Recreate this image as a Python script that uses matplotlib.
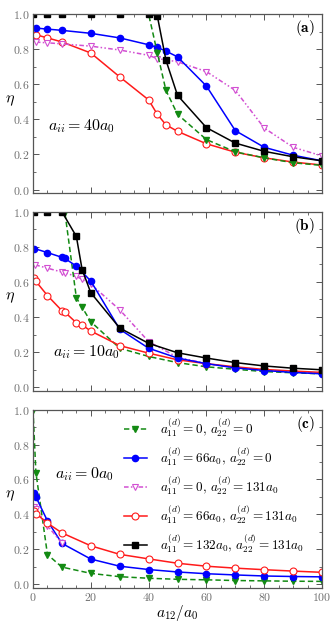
import matplotlib
matplotlib.use("Agg")
import matplotlib.pyplot as plt
from matplotlib.ticker import MultipleLocator, FuncFormatter

plt.rcParams['mathtext.fontset'] = 'cm'
plt.rcParams['font.family'] = ['DejaVu Serif']

# ---------------- data ----------------
# panel (a): a_ii = 40 a0
xa = [0, 5, 10, 20, 30, 40, 43, 46, 50, 60, 70, 80, 90, 100]
xa2 = [1, 5, 10, 20, 30, 40, 43, 46, 50, 60, 70, 80, 90, 100]
a_green = [1.0, 1.0, 1.0, 1.0, 1.0, 1.0, 0.78, 0.565, 0.429, 0.285, 0.215, 0.181, 0.153, 0.138]
a_blue = [0.92, 0.914, 0.907, 0.89, 0.864, 0.825, 0.81, 0.789, 0.756, 0.59, 0.336, 0.241, 0.196, 0.164]
a_mag = [0.84, 0.836, 0.83, 0.817, 0.795, 0.765, 0.746, 0.739, 0.728, 0.672, 0.565, 0.351, 0.241, 0.192]
a_red = [0.882, 0.864, 0.841, 0.778, 0.642, 0.511, 0.429, 0.369, 0.332, 0.261, 0.213, 0.181, 0.157, 0.140]
a_black = [1.0, 1.0, 1.0, 1.0, 1.0, 1.0, 0.99, 0.737, 0.537, 0.353, 0.265, 0.218, 0.187, 0.164]

# panel (b): a_ii = 10 a0
xb_green = [0, 5, 11, 15, 17, 20, 30, 40, 50, 60, 70, 80, 90, 100]
b_green = [1.0, 1.0, 1.0, 0.51, 0.455, 0.373, 0.222, 0.175, 0.14, 0.116, 0.102, 0.089, 0.082, 0.076]
xb_blue = [0.5, 5, 10, 11, 15, 20, 30, 40, 50, 60, 70, 80, 90, 100]
b_blue = [0.79, 0.767, 0.74, 0.734, 0.69, 0.605, 0.33, 0.222, 0.166, 0.134, 0.11, 0.095, 0.084, 0.076]
xb_mag = [0.8, 5, 10, 11, 15, 17, 20, 30, 40, 50, 60, 70, 80, 90, 100]
b_mag = [0.697, 0.678, 0.656, 0.652, 0.631, 0.615, 0.587, 0.441, 0.26, 0.17, 0.135, 0.11, 0.095, 0.086, 0.078]
xb_red = [0.5, 1, 5, 10, 11, 15, 17, 20, 30, 40, 50, 60, 70, 80, 90, 100]
b_red = [0.62, 0.603, 0.522, 0.436, 0.428, 0.367, 0.354, 0.32, 0.237, 0.194, 0.156, 0.134, 0.116, 0.101, 0.092, 0.084]
xb_black = [0.5, 5, 10, 15, 17, 20, 30, 40, 50, 60, 70, 80, 90, 100]
b_black = [1.0, 1.0, 1.0, 0.859, 0.67, 0.538, 0.337, 0.25, 0.196, 0.166, 0.14, 0.121, 0.108, 0.099]

# panel (c): a_ii = 0 a0
xc_green = [0, 1, 5, 10, 20, 30, 40, 50, 60, 70, 80, 90, 100]
c_green = [1.0, 0.64, 0.17, 0.098, 0.062, 0.043, 0.034, 0.028, 0.025, 0.021, 0.019, 0.017, 0.016]
xc_blue = [0.5, 1, 5, 10, 20, 30, 40, 50, 60, 70, 80, 90, 100]
c_blue = [0.52, 0.50, 0.363, 0.234, 0.144, 0.103, 0.084, 0.07, 0.06, 0.053, 0.047, 0.044, 0.042]
xc_mag = [0.5, 1, 5, 10]
c_mag = [0.44, 0.43, 0.335, 0.235]
xc_red = [0.5, 1, 5, 10, 20, 30, 40, 50, 60, 70, 80, 90, 100]
c_red = [0.42, 0.405, 0.35, 0.294, 0.22, 0.171, 0.145, 0.12, 0.103, 0.092, 0.083, 0.075, 0.068]

labels = [r'$a_{11}^{(d)}=0,\, a_{22}^{(d)}=0$',
          r'$a_{11}^{(d)}=66a_0,\, a_{22}^{(d)}=0$',
          r'$a_{11}^{(d)}=0,\, a_{22}^{(d)}=131a_0$',
          r'$a_{11}^{(d)}=66a_0,\, a_{22}^{(d)}=131a_0$',
          r'$a_{11}^{(d)}=132a_0,\, a_{22}^{(d)}=131a_0$']
panel_tags = [r'$\mathbf{(a)}$', r'$\mathbf{(b)}$', r'$\mathbf{(c)}$']
aii_text = [r'$a_{ii}=40a_0$', r'$a_{ii}=10a_0$', r'$a_{ii}=0a_0$']

# ---------------- styles ----------------
GREEN = '#138a13'
BLUE = '#0000ff'
MAG = '#d24fd2'
RED = '#ff1a1a'
BLACK = '#000000'
st_green = dict(color=GREEN, ls=(0, (3.5, 2)), lw=1.1, marker='v', ms=4.5, mfc=GREEN, mec=GREEN)
st_blue = dict(color=BLUE, ls='-', lw=1.1, marker='o', ms=4.5, mfc=BLUE, mec=BLUE)
st_mag = dict(color=MAG, ls=(0, (3, 1.5, 1, 1.5, 1, 1.5)), lw=1.1, marker='v', ms=5, mfc='white', mec=MAG, mew=0.8)
st_red = dict(color=RED, ls='-', lw=1.1, marker='o', ms=5, mfc='white', mec=RED, mew=0.8)
st_black = dict(color=BLACK, ls='-', lw=1.1, marker='s', ms=4.5, mfc=BLACK, mec=BLACK)

fig = plt.figure(figsize=(3.32, 6.23), dpi=100)
left, width = 0.0994, 0.8705
boxes = [(0.690, 0.9775), (0.3729, 0.6602), (0.0567, 0.3424)]
axes = [fig.add_axes([left, b, width, t - b]) for b, t in boxes]

FRAME = '#555555'
TICKC = '#707070'

def fmt_y(v, pos):
    return r'$%.1f$' % v

def fmt_x(v, pos):
    return r'$%d$' % round(v)

for i, ax in enumerate(axes):
    ax.set_xlim(0, 100)
    ax.set_ylim(-0.02, 1.0)
    for s in ax.spines.values():
        s.set_color(FRAME)
        s.set_linewidth(0.9)
    ax.xaxis.set_major_locator(MultipleLocator(20))
    ax.xaxis.set_minor_locator(MultipleLocator(5))
    ax.yaxis.set_major_locator(MultipleLocator(0.2))
    ax.yaxis.set_minor_locator(MultipleLocator(0.1))
    ax.tick_params(which='both', direction='in', top=True, right=True, color=FRAME,
                   labelcolor=TICKC, labelsize=8.5, pad=2.5)
    ax.tick_params(which='major', length=4, width=0.7)
    ax.tick_params(which='minor', length=2.2, width=0.6)
    ax.yaxis.set_major_formatter(FuncFormatter(fmt_y))
    ax.xaxis.set_major_formatter(FuncFormatter(fmt_x))
    ax.set_ylabel(r'$\eta$', fontsize=11.5, rotation=0, ha='center', va='center')
    ax.yaxis.set_label_coords(-0.078, 0.525)
    if i < 2:
        ax.tick_params(labelbottom=False)
    ax.text(0.975, 0.92, panel_tags[i], transform=ax.transAxes, ha='right', va='center',
            fontsize=11)

ax = axes[0]
ax.plot(xa2, a_red, **st_red)
ax.plot(xa2, a_mag, **st_mag)
ax.plot(xa2, a_blue, **st_blue)
ax.plot(xa, a_green, **st_green)
ax.plot(xa, a_black, **st_black)
ax.text(5.2, 0.36, aii_text[0], fontsize=11.5, va='center')

ax = axes[1]
ax.plot(xb_mag, b_mag, **st_mag)
ax.plot(xb_green, b_green, **st_green)
ax.plot(xb_red, b_red, **st_red)
ax.plot(xb_blue, b_blue, **st_blue)
ax.plot(xb_black, b_black, **st_black)
ax.text(7, 0.2, aii_text[1], fontsize=11.5, va='center')

ax = axes[2]
h1, = ax.plot(xc_green, c_green, **st_green)
h2, = ax.plot(xc_blue, c_blue, **st_blue)
h3, = ax.plot(xc_mag, c_mag, **st_mag)
h4, = ax.plot(xc_red, c_red, **st_red)
h5, = ax.plot([], [], **st_black)
ax.text(7.6, 0.63, aii_text[2], fontsize=11.5, va='center')
ax.legend([h1, h2, h3, h4, h5], labels, loc='upper left', bbox_to_anchor=(0.295, 0.99),
          frameon=False, fontsize=9.5, handlelength=1.75, handletextpad=1.0,
          labelspacing=0.5, borderaxespad=0)
ax.set_xlabel(r'$a_{12}/a_0$', fontsize=11)
ax.xaxis.set_label_coords(0.5, -0.085)

fig.savefig('out.png', dpi=100)
